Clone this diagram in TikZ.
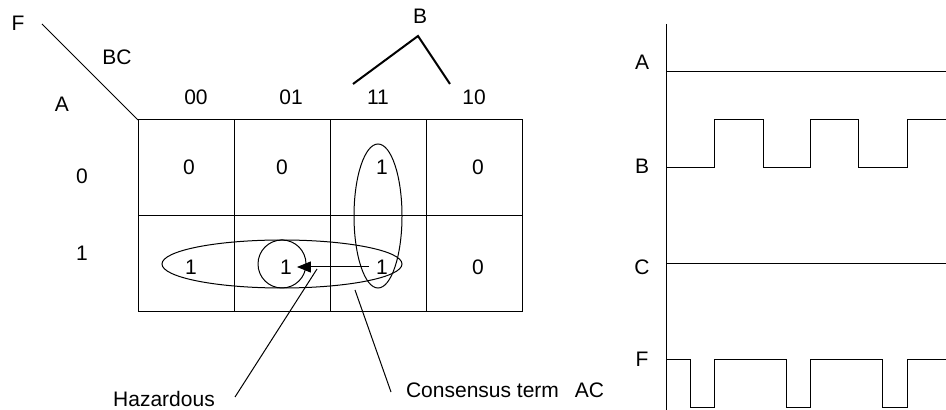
\documentclass[tikz,border=0pt]{standalone}
\usepackage{fontspec}
\setmainfont{Liberation Sans}
\usetikzlibrary{arrows.meta}

\begin{document}
\begin{tikzpicture}[x=0.5pt,y=-0.5pt,font=\fontsize{10.5}{12}\selectfont,
  grid line/.style={line width=0.5pt},
  loop line/.style={line width=0.5pt},
  wave/.style={line width=0.5pt}]
\useasboundingbox (0,0) rectangle (946,410);
% k-map frame
\coordinate (corner) at (138,120);
\draw[grid line] (corner) rectangle (522,312);
\draw[grid line] (138,216) -- (522,216);
\foreach \x in {234,330,426} \draw[grid line] (\x,120) -- (\x,312);
\coordinate (fdiag) at (42,24);
\draw[grid line] (fdiag) -- (corner);
\node (F) at (18,23) {F};
\node (BC) at (117,57) {BC};
\node (A) at (62,104) {A};
\foreach \t/\x in {00/196,01/291,11/378,10/474}
  \node (col\t) at (\x,97) {\t};
\node (row0) at (82,176) {0};
\node (row1) at (82,253) {1};
% B bracket
\coordinate (bl) at (353,84);
\coordinate (btop) at (418,36);
\coordinate (br) at (450,84);
\draw[line width=1pt] (bl) -- (btop) -- (br);
\node (B) at (420,16) {B};
% cell values
\node (c00) at (189,167) {0};
\node (c01) at (282,167) {0};
\node (c02) at (382,167) {1};
\node (c03) at (478,167) {0};
\node (c10) at (191,267) {1};
\node (c11) at (286,267) {1};
\node (c12) at (382,267) {1};
\node (c13) at (478,267) {0};
% groupings
\draw[loop line] (282,264) ellipse [x radius=120, y radius=24];
\draw[loop line] (378,216) ellipse [x radius=24, y radius=72];
\draw[loop line] (282,264) circle (24);
\draw[loop line,-{Triangle[length=7pt,width=5.5pt]}] (c12.west) -- ([xshift=-1pt]c11.east);
% notes
\node (haz) at (164,399) {Hazardous};
\node[anchor=west] (cons) at (399,390) {Consensus term\hspace{8pt}AC};
\coordinate (hz) at (317,269);
\coordinate (cs) at (355,290);
\draw[grid line] (hz) -- (235,397);
\draw[grid line] (cs) -- (391,392);
% timing diagram
\draw[wave] (666,24) -- (666,410);
\node (tA) at (642,62) {A};
\node (tB) at (642,166) {B};
\node (tC) at (642,267) {C};
\node (tF) at (642,359) {F};
\draw[wave] (666,72) -- (946,72);
\draw[wave] (666,168) -- (714,168) -- (714,120) -- (763,120) -- (763,168) -- (810,168)
  -- (810,120) -- (858,120) -- (858,168) -- (907,168) -- (907,120) -- (946,120);
\draw[wave] (666,264) -- (946,264);
\draw[wave] (666,360) -- (690,360) -- (690,408) -- (714,408) -- (714,360) -- (786,360)
  -- (786,408) -- (810,408) -- (810,360) -- (882,360) -- (882,408) -- (907,408)
  -- (907,360) -- (946,360);
\end{tikzpicture}
\end{document}
